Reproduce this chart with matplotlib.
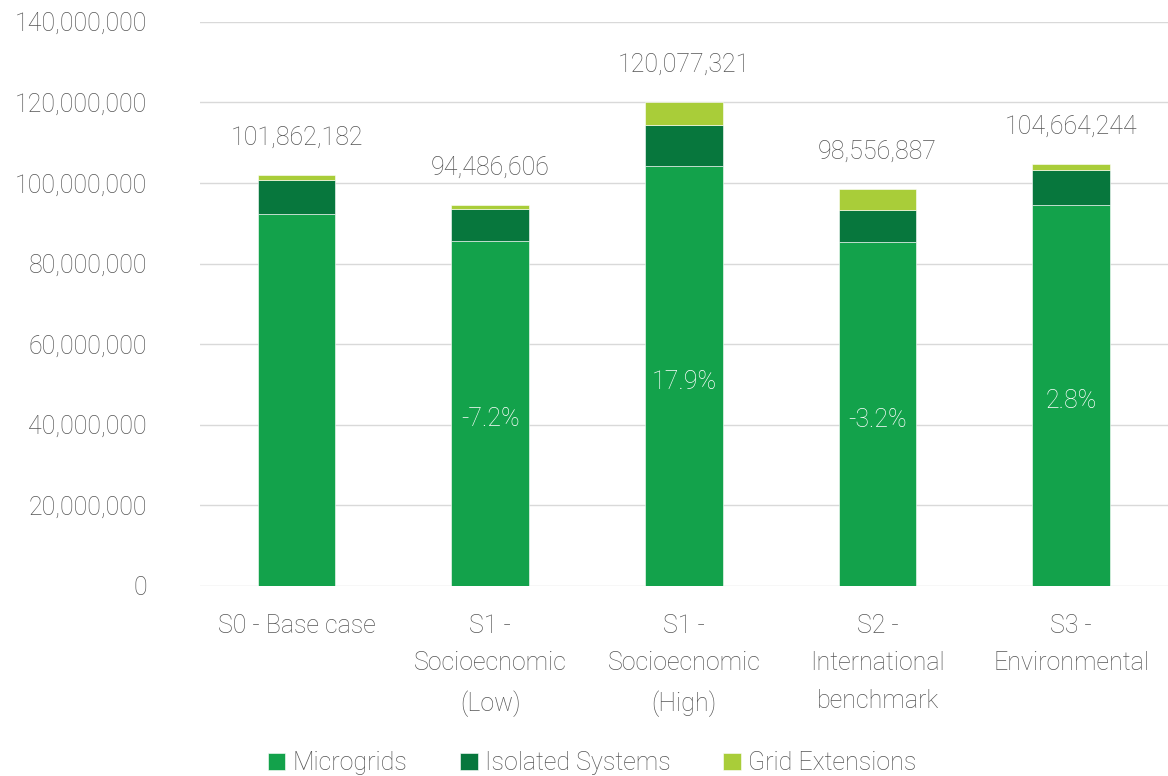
import numpy as np
import matplotlib.pyplot as plt
import matplotlib.ticker as ticker

plt.rcParams['font.family'] = ['Roboto', 'DejaVu Sans']

# scenarios
categories = ['S0 - Base case', 'S1 -\nSocioecnomic\n(Low)', 'S1 -\nSocioecnomic\n(High)',
              'S2 -\nInternational\nbenchmark', 'S3 -\nEnvironmental']
microgrids = [92.3e6, 85.6e6, 104.2e6, 85.4e6, 94.6e6]
isolated = [8.3e6, 8.0e6, 10.1e6, 7.8e6, 8.7e6]
totals = [101862182, 94486606, 120077321, 98556887, 104664244]
grid_ext = [t - m - i for t, m, i in zip(totals, microgrids, isolated)]
pct_labels = ['', '-7.2%', '17.9%', '-3.2%', '2.8%']

c_micro = '#13A24B'
c_iso = '#07773D'
c_grid = '#A9CD39'
txt = '#555555'
fw = 'light'

fig = plt.figure(figsize=(11.68, 7.76), dpi=100)
ax = fig.add_axes([0.171, 0.245, 0.829, 0.727])

x = np.arange(len(categories))
w = 0.4
b1 = ax.bar(x, microgrids, w, color=c_micro, edgecolor='white', linewidth=0.4, label='Microgrids', zorder=3)
b2 = ax.bar(x, isolated, w, bottom=microgrids, color=c_iso, edgecolor='white', linewidth=0.4,
            label='Isolated Systems', zorder=3)
bot3 = [m + i for m, i in zip(microgrids, isolated)]
b3 = ax.bar(x, grid_ext, w, bottom=bot3, color=c_grid, edgecolor='white', linewidth=0.4,
            label='Grid Extensions', zorder=3)

# totals above bars
for xi, t in zip(x, totals):
    ax.text(xi, t + 6.3e6, f'{t:,}', ha='center', va='bottom', fontsize=18,
            color=txt, fontweight=fw)

# change vs base, inside microgrid segment
for xi, m, p in zip(x, microgrids, pct_labels):
    if p:
        ax.text(xi, m / 2 - 1.5e6, p, ha='center', va='center', fontsize=18,
                color='white', fontweight=fw)

ax.set_xlim(-0.5, 4.5)
ax.set_ylim(0, 140e6)
ax.yaxis.set_major_locator(ticker.MultipleLocator(20e6))
ax.yaxis.set_major_formatter(ticker.FuncFormatter(lambda v, p: f'{int(v):,}'))
ax.set_xticks(x)
ax.set_xticklabels(categories, linespacing=1.72)

for spine in ax.spines.values():
    spine.set_visible(False)
ax.grid(axis='y', color='#D9D9D9', linewidth=1, zorder=0)
ax.tick_params(axis='both', length=0, labelsize=18, labelcolor=txt)
ax.tick_params(axis='y', pad=38)
ax.tick_params(axis='x', pad=20)
for lbl in ax.get_xticklabels() + ax.get_yticklabels():
    lbl.set_fontweight(fw)

fig.legend(handles=[b1, b2, b3], loc='lower center', bbox_to_anchor=(0.507, -0.028),
           ncol=3, frameon=False, handlelength=0.7, handleheight=0.7,
           handletextpad=0.3, columnspacing=2.1, labelcolor=txt,
           prop={'weight': fw, 'size': 18})

fig.savefig('out.png', dpi=100)
